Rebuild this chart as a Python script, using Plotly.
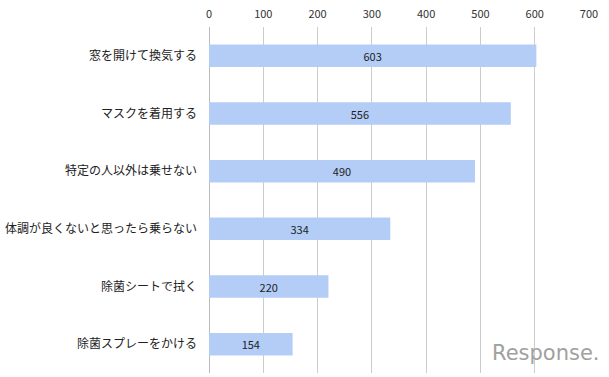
import plotly.graph_objects as go

categories = ["窓を開けて換気する", "マスクを着用する", "特定の人以外は乗せない",
              "体調が良くないと思ったら乗らない", "除菌シートで拭く", "除菌スプレーをかける"]
values = [603, 556, 490, 334, 220, 154]
tick_vals = [0, 100, 200, 300, 400, 500, 600, 700]

font = "Noto Sans CJK JP, sans-serif"

fig = go.Figure(go.Bar(
    x=values, y=categories, orientation="h",
    marker=dict(color="#b3cdf7", line=dict(width=0)),
    width=0.39,
    text=[str(v) for v in values], textposition="inside", insidetextanchor="middle",
    textfont=dict(family=font, size=11, color="#222222"),
))

fig.update_layout(
    width=609, height=377,
    margin=dict(l=209, r=20, t=27, b=4),
    paper_bgcolor="white", plot_bgcolor="white",
    showlegend=False,
    font=dict(family=font, size=11, color="#333333"),
    xaxis=dict(range=[0, 700], tickvals=tick_vals, side="top", automargin=False,
               showgrid=True, gridcolor="#cccccc", gridwidth=1,
               zeroline=True, zerolinecolor="#bbbbbb", zerolinewidth=1,
               showline=False, ticks="", ticklen=0, ticklabelstandoff=6,
               tickfont=dict(family=font, size=11, color="#333333")),
    yaxis=dict(categoryorder="array", categoryarray=categories, autorange="reversed",
               automargin=False,
               showgrid=False, showline=False, ticks="", ticklabelstandoff=11,
               tickfont=dict(family=font, size=12, color="#222222")),
    annotations=[dict(text="Response.", xref="paper", yref="paper",
                      x=1.0, y=0.0, xanchor="right", yanchor="bottom",
                      xshift=13, yshift=6, showarrow=False,
                      font=dict(family="DejaVu Sans, sans-serif", size=21, color="#a0a0a0"))],
)

fig.write_html("out.html", config={"displayModeBar": False},
               post_script="document.body.style.margin='0';document.body.style.overflow='hidden';")
